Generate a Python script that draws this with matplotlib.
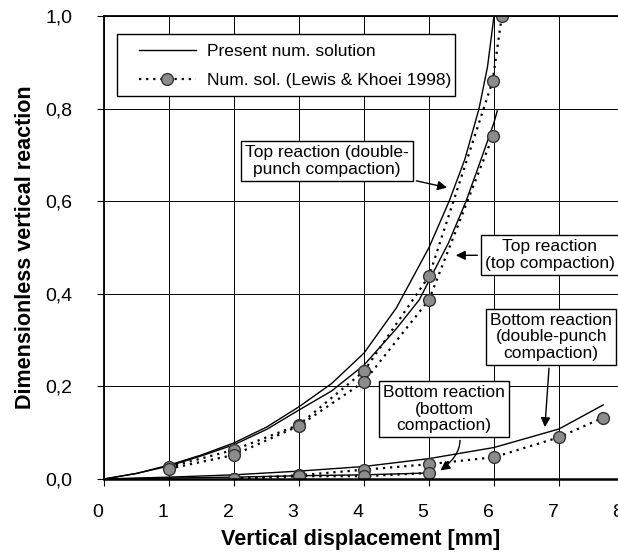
import matplotlib
matplotlib.use('Agg')
import matplotlib.pyplot as plt
import matplotlib.transforms as mtransforms
from matplotlib.patches import Rectangle

plt.rcParams['font.family'] = ['Liberation Sans', 'DejaVu Sans']

# present numerical solution (solid curves)
x_top_dp = [0, 0.5, 1, 1.5, 2, 2.5, 3, 3.5, 4, 4.5, 5, 5.31, 5.55, 5.77, 5.9, 6.0]
y_top_dp = [0, 0.012, 0.03, 0.052, 0.078, 0.112, 0.156, 0.206, 0.272, 0.37, 0.5, 0.6, 0.69, 0.8, 0.89, 1.0]
x_top_tc = [0, 0.5, 1, 1.5, 2, 2.5, 3, 3.5, 4, 4.5, 4.85, 5, 5.3, 5.57, 5.8, 6.0, 6.05]
y_top_tc = [0, 0.012, 0.028, 0.05, 0.074, 0.107, 0.149, 0.19, 0.246, 0.325, 0.387, 0.428, 0.51, 0.6, 0.69, 0.77, 0.795]
x_bot_dp = [0, 1, 2, 3, 4, 5, 6, 7, 7.68]
y_bot_dp = [0, 0.004, 0.009, 0.017, 0.027, 0.044, 0.068, 0.108, 0.16]
x_bot_bc = [0, 1, 2, 3, 4, 5]
y_bot_bc = [0, 0.002, 0.004, 0.007, 0.009, 0.013]

# Lewis & Khoei 1998 (dotted with markers)
xl_top_dp = [1, 2, 3, 4, 5, 5.98, 6.12]
yl_top_dp = [0.026, 0.063, 0.117, 0.233, 0.438, 0.86, 1.0]
xl_top_tc = [1, 2, 3, 4, 5, 5.98]
yl_top_tc = [0.022, 0.052, 0.115, 0.21, 0.387, 0.74]
xl_bot_dp = [2, 3, 4, 5, 6, 7, 7.67]
yl_bot_dp = [0.001, 0.008, 0.02, 0.032, 0.047, 0.09, 0.132]
xl_bot_bc = [2, 3, 4, 5]
yl_bot_bc = [0.0, 0.006, 0.006, 0.013]

x_ticks = [0, 1, 2, 3, 4, 5, 6, 7, 8]
y_ticks = [0.0, 0.2, 0.4, 0.6, 0.8, 1.0]
y_tick_labels = ['0,0', '0,2', '0,4', '0,6', '0,8', '1,0']

fig = plt.figure(figsize=(6.18, 5.54), dpi=100)
ax = fig.add_axes([0.1683, 0.1354, 0.8414, 0.8357])

solid = dict(color='black', lw=1.0)
dotted = dict(color='black', lw=1.6, ls=(0, (1, 2.2)), marker='o', ms=8.5,
              mfc='#8c8c8c', mec='#333333', mew=1.0)

ax.plot(x_top_dp, y_top_dp, **solid, label='Present num. solution')
ax.plot(x_top_tc, y_top_tc, **solid)
ax.plot(x_bot_dp, y_bot_dp, **solid)
ax.plot(x_bot_bc, y_bot_bc, **solid)
ax.plot(xl_top_dp, yl_top_dp, **dotted, label='Num. sol. (Lewis & Khoei 1998)')
ax.plot(xl_top_tc, yl_top_tc, **dotted)
ax.plot(xl_bot_dp, yl_bot_dp, **dotted)
ax.plot(xl_bot_bc, yl_bot_bc, **dotted)

ax.set_xlim(0, 8)
ax.set_ylim(0, 1.0)
ax.set_xticks(x_ticks)
ax.set_yticks(y_ticks)
ax.set_yticklabels(y_tick_labels)
ax.tick_params(labelsize=14, direction='out', length=5, width=0.8)
ax.tick_params(axis='y', pad=18)
ax.tick_params(axis='x', pad=13)
shift = mtransforms.ScaledTranslation(-6 / 100, 0, fig.dpi_scale_trans)
for lab in ax.get_xticklabels():
    lab.set_transform(lab.get_transform() + shift)
ax.grid(True, color='black', lw=0.7)
ax.set_axisbelow(True)
for s in ['left', 'top']:
    ax.spines[s].set_linewidth(1.3)
ax.spines['bottom'].set_linewidth(1.8)
ax.spines['right'].set_visible(False)

ax.set_xlabel('Vertical displacement [mm]', fontsize=15.5, fontweight='bold')
ax.xaxis.set_label_coords(0.493, -0.108)
ax.set_ylabel('Dimensionless vertical reaction', fontsize=15.5, fontweight='bold')
ax.yaxis.set_label_coords(-0.131, 0.5)

# legend frame drawn as a patch, legend entries without frame
ax.add_patch(Rectangle((0.025, 0.827), 0.65, 0.134, transform=ax.transAxes,
                       fc='white', ec='black', lw=1.0, zorder=4))
leg = ax.legend(loc='upper left', bbox_to_anchor=(0.067, 0.940), frameon=False,
                fontsize=12.5, handlelength=3.3, handletextpad=0.6, numpoints=1,
                borderpad=0, borderaxespad=0, labelspacing=0.82)
leg.set_zorder(5)

box = dict(boxstyle='square,pad=0.25', fc='white', ec='black', lw=1.0)
arrow = dict(arrowstyle='-|>', color='black', lw=1.0, mutation_scale=14)

ax.annotate('Top reaction (double-\npunch compaction)', xy=(5.32, 0.628), xytext=(3.43, 0.687),
            fontsize=12.5, ha='center', va='center', bbox=box, arrowprops=arrow, linespacing=1.1)
ax.annotate('Top reaction\n(top compaction)', xy=(5.37, 0.483), xytext=(6.86, 0.484),
            fontsize=12.5, ha='center', va='center', bbox=box, arrowprops=arrow, linespacing=1.1)
ax.annotate('Bottom reaction\n(double-punch\ncompaction)', xy=(6.78, 0.106), xytext=(6.88, 0.307),
            fontsize=12.5, ha='center', va='center', bbox=box, arrowprops=arrow, linespacing=1.1)
ax.annotate('Bottom reaction\n(bottom\ncompaction)', xy=(5.14, 0.015), xytext=(5.23, 0.151),
            fontsize=12.5, ha='center', va='center', bbox=box, linespacing=1.1,
            arrowprops=dict(arrow, connectionstyle='arc3,rad=-0.6'))

fig.savefig('out.png', dpi=100)
